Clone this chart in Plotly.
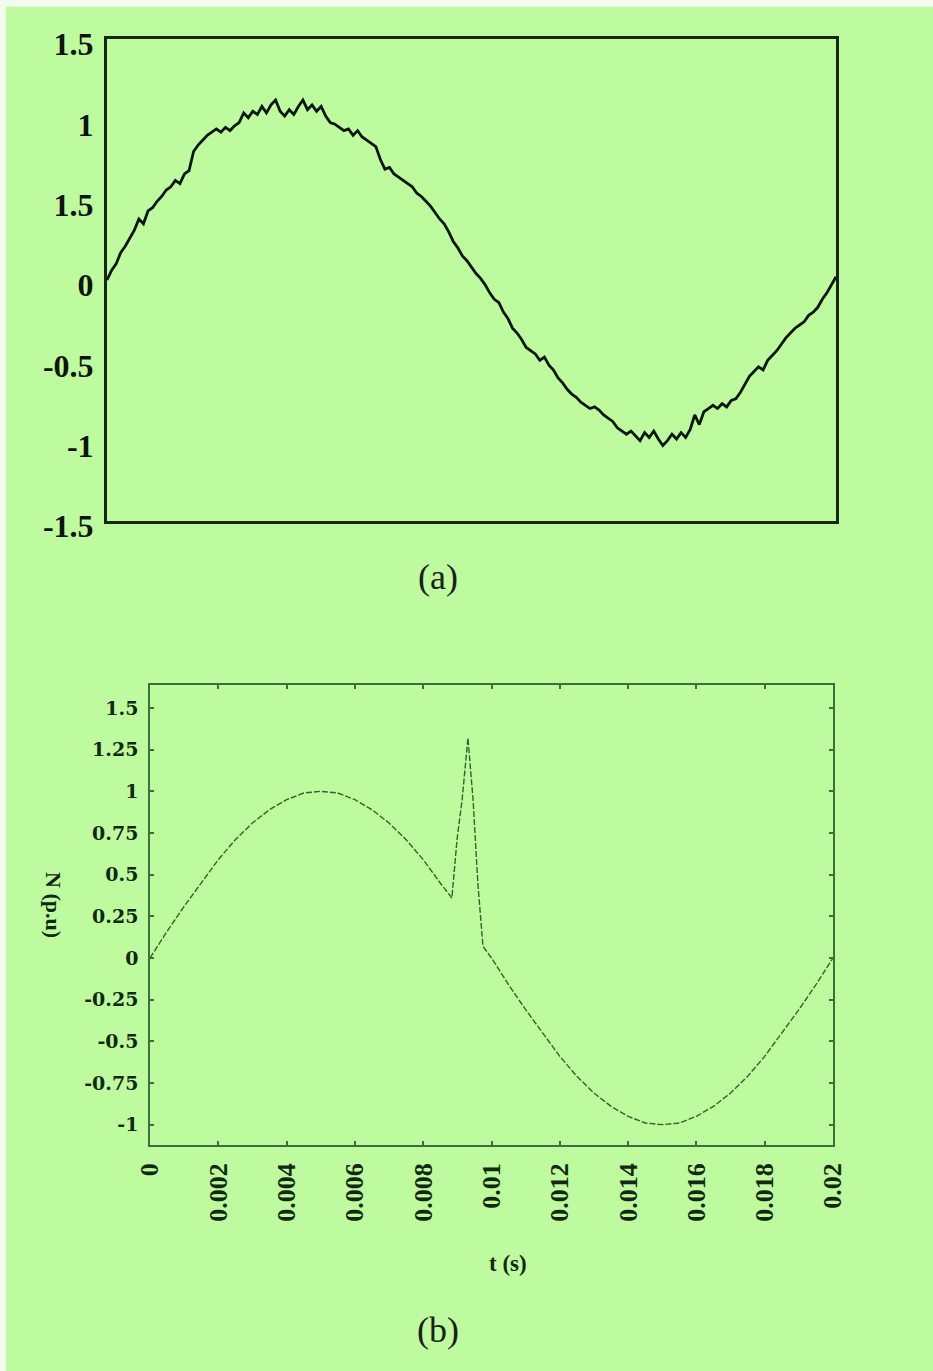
import plotly.graph_objects as go

# ---- panel (a): measured current waveform, one cycle (uniform samples, 0 .. 0.02 s) ----
i_a = [
    0.00, 0.06, 0.10, 0.17, 0.21, 0.26, 0.31, 0.38, 0.35, 0.43,
    0.45, 0.49, 0.52, 0.56, 0.58, 0.62, 0.60, 0.66, 0.68, 0.80,
    0.84, 0.87, 0.90, 0.92, 0.94, 0.92, 0.95, 0.93, 0.96, 0.98,
    1.04, 1.01, 1.05, 1.03, 1.08, 1.04, 1.09, 1.12, 1.05, 1.02,
    1.06, 1.03, 1.08, 1.12, 1.06, 1.09, 1.05, 1.08, 1.02, 0.98,
    0.97, 0.95, 0.93, 0.94, 0.90, 0.93, 0.89, 0.87, 0.85, 0.83,
    0.75, 0.69, 0.70, 0.66, 0.64, 0.62, 0.60, 0.58, 0.54, 0.52,
    0.49, 0.46, 0.42, 0.38, 0.35, 0.30, 0.24, 0.20, 0.15, 0.12,
    0.08, 0.04, 0.01, -0.03, -0.08, -0.12, -0.14, -0.20, -0.24, -0.30,
    -0.33, -0.37, -0.42, -0.44, -0.46, -0.50, -0.48, -0.53, -0.56, -0.61,
    -0.64, -0.68, -0.71, -0.73, -0.76, -0.78, -0.80, -0.79, -0.81, -0.84,
    -0.86, -0.88, -0.92, -0.94, -0.96, -0.94, -0.97, -1.00, -0.95, -0.98,
    -0.94, -0.99, -1.03, -1.00, -0.96, -0.99, -0.95, -0.98, -0.93, -0.84,
    -0.90, -0.82, -0.80, -0.78, -0.80, -0.77, -0.79, -0.75, -0.74, -0.70,
    -0.65, -0.60, -0.57, -0.54, -0.56, -0.50, -0.47, -0.44, -0.40, -0.36,
    -0.33, -0.30, -0.28, -0.26, -0.22, -0.20, -0.17, -0.12, -0.08, -0.03,
    0.02,
]
t_a = [k * 0.02 / (len(i_a) - 1) for k in range(len(i_a))]

a_tickvals = [-1.5, -1, -0.5, 0, 0.5, 1, 1.5]
a_ticktext = ["-1.5", "-1", "-0.5", "0", "1.5", "1", "1.5"]

# ---- panel (b): N (p.u) versus time ----
t_b = [
    0.0, 0.0005, 0.001, 0.0015, 0.002, 0.0025, 0.003, 0.0035, 0.004, 0.0045,
    0.005, 0.0055, 0.006, 0.0065, 0.007, 0.0075, 0.008, 0.0085, 0.00884,
    0.00899, 0.00914, 0.00931, 0.00946, 0.0096, 0.00975, 0.01, 0.0105,
    0.011, 0.0115, 0.012, 0.0125, 0.013, 0.0135, 0.014, 0.0145, 0.015,
    0.0155, 0.016, 0.0165, 0.017, 0.0175, 0.018, 0.0185, 0.019, 0.0195, 0.02,
]
n_b = [
    0.00, 0.16, 0.31, 0.45, 0.59, 0.71, 0.81, 0.89, 0.95, 0.99,
    1.00, 0.99, 0.95, 0.89, 0.81, 0.71, 0.59, 0.45, 0.36,
    0.71, 0.95, 1.32, 0.95, 0.45, 0.07, 0.00, -0.16,
    -0.31, -0.45, -0.59, -0.71, -0.81, -0.89, -0.95, -0.99, -1.00,
    -0.99, -0.95, -0.89, -0.81, -0.71, -0.59, -0.45, -0.31, -0.16, 0.00,
]

b_xtickvals = [0, 0.002, 0.004, 0.006, 0.008, 0.01, 0.012, 0.014, 0.016, 0.018, 0.02]
b_xticktext = ["0", "0.002", "0.004", "0.006", "0.008", "0.01", "0.012", "0.014", "0.016", "0.018", "0.02"]
b_ytickvals = [-1, -0.75, -0.5, -0.25, 0, 0.25, 0.5, 0.75, 1, 1.25, 1.5]
b_yticktext = ["-1", "-0.75", "-0.5", "-0.25", "0", "0.25", "0.5", "0.75", "1", "1.25", "1.5"]

W, H = 933, 1371
BG = "#bdfb9e"
SERIF = "Liberation Serif"


def px_x(p):
    return p / W


def px_y(p):
    return 1 - p / H


fig = go.Figure()

fig.add_trace(go.Scatter(
    x=t_a, y=i_a, mode="lines", xaxis="x", yaxis="y",
    line=dict(color="#0b160b", width=2.8), showlegend=False, hoverinfo="skip",
))
fig.add_trace(go.Scatter(
    x=t_b, y=n_b, mode="lines", xaxis="x2", yaxis="y2",
    line=dict(color="#2c662c", width=1.4, dash="6px,2px"), showlegend=False, hoverinfo="skip",
))

frame_a = dict(showline=True, mirror=True, linewidth=3, linecolor="#142814",
               showgrid=False, zeroline=False, automargin=False)
frame_b = dict(showline=True, mirror="allticks", linewidth=1.6, linecolor="#3b6f3b",
               showgrid=False, zeroline=False, ticks="inside", ticklen=4,
               tickcolor="#3b6f3b", tickwidth=1.5, automargin=False)

fig.update_layout(
    template="none",
    width=W, height=H,
    margin=dict(l=0, r=0, t=0, b=0, pad=0, autoexpand=False),
    paper_bgcolor=BG, plot_bgcolor=BG,
    xaxis=dict(domain=[px_x(107), px_x(836)], range=[0, 0.02], showticklabels=False,
               ticks="", anchor="y", **frame_a),
    yaxis=dict(domain=[px_y(521), px_y(39)], range=[-1.5, 1.5], anchor="x",
               tickmode="array", tickvals=a_tickvals, ticktext=a_ticktext,
               ticks="", ticklabelstandoff=4, ticklabelshift=5,
               tickfont=dict(family=SERIF, size=32, color="#0d140d", weight="bold"), **frame_a),
    xaxis2=dict(domain=[px_x(150), px_x(833)], range=[0, 0.02], anchor="y2",
                tickmode="array", tickvals=b_xtickvals, ticktext=b_xticktext,
                tickangle=-90, ticklabelstandoff=6,
                tickfont=dict(family=SERIF, size=26, color="#122812", weight="bold"),
                **frame_b),
    yaxis2=dict(domain=[px_y(1145), px_y(685)], range=[-1.122, 1.638], anchor="x2",
                tickmode="array", tickvals=b_ytickvals, ticktext=b_yticktext,
                ticklabelstandoff=6,
                tickfont=dict(family="DejaVu Serif", size=19, color="#122812", weight="bold"),
                **frame_b),
    shapes=[
        dict(type="rect", xref="paper", yref="paper", x0=0, x1=1,
             y0=px_y(7), y1=1, fillcolor="#f3fbef", line=dict(width=0), layer="below"),
        dict(type="rect", xref="paper", yref="paper", x0=0, x1=px_x(6),
             y0=0, y1=1, fillcolor="#f3fbef", line=dict(width=0), layer="below"),
    ],
    annotations=[
        dict(text="(a)", x=px_x(438), y=px_y(577), xref="paper", yref="paper",
             showarrow=False, xanchor="center", yanchor="middle",
             font=dict(family=SERIF, size=36, color="#1a1f1a")),
        dict(text="(b)", x=px_x(438), y=px_y(1330), xref="paper", yref="paper",
             showarrow=False, xanchor="center", yanchor="middle",
             font=dict(family=SERIF, size=36, color="#1a1f1a")),
        dict(text="t (s)", x=px_x(508), y=px_y(1263), xref="paper", yref="paper",
             showarrow=False, xanchor="center", yanchor="middle",
             font=dict(family=SERIF, size=23, color="#122812", weight="bold")),
        dict(text="N (p.u)", x=px_x(53), y=px_y(905), xref="paper", yref="paper",
             showarrow=False, xanchor="center", yanchor="middle", textangle=90,
             font=dict(family=SERIF, size=22, color="#122812", weight="bold")),
    ],
)

fig.write_html("out.html")
